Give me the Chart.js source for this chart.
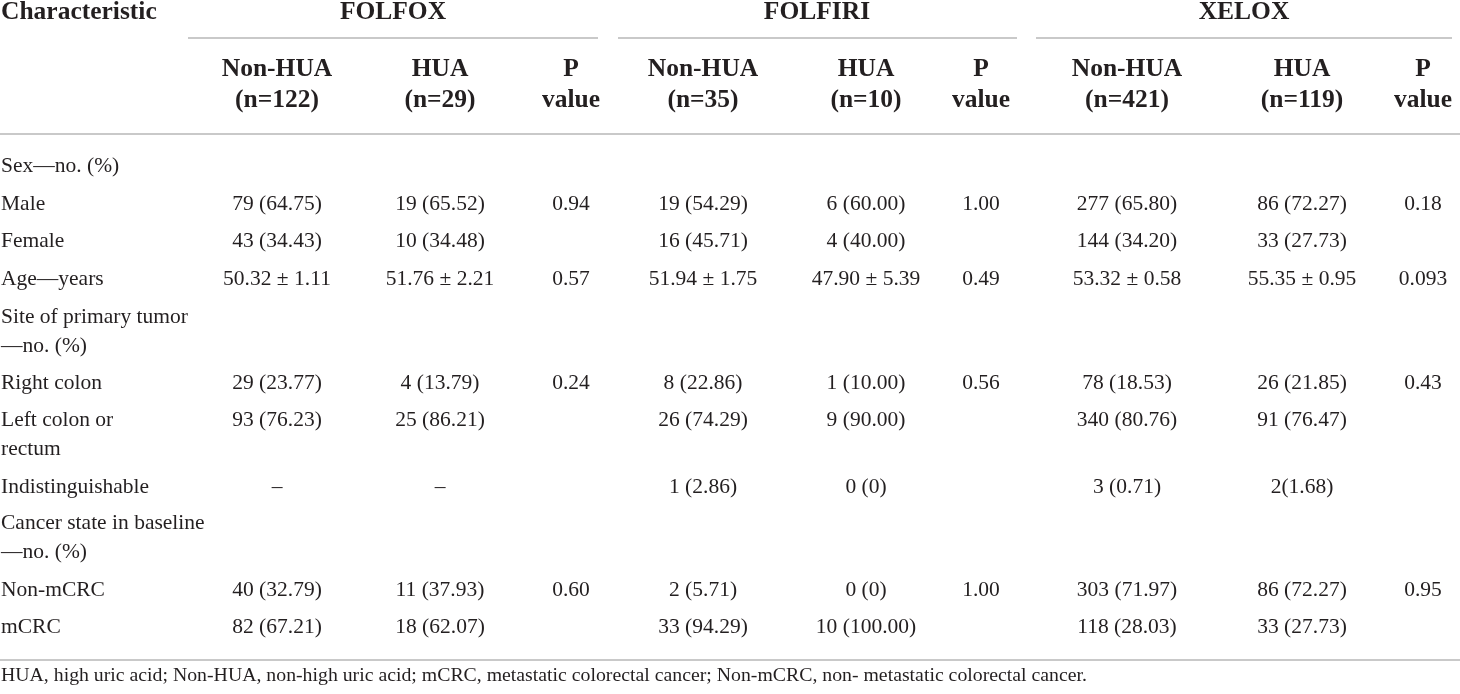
<!DOCTYPE html>
<html>
<head>
<meta charset="utf-8">
<script src="https://cdn.jsdelivr.net/npm/chart.js@4.4.1/dist/chart.umd.min.js"></script>
<style>
  html, body { margin: 0; padding: 0; background: #fff; }
  canvas { display: block; }
</style>
</head>
<body>
<canvas id="table" width="1460" height="694"></canvas>
<script>
// table content
const regimens = ['FOLFOX', 'FOLFIRI', 'XELOX'];
const armNames = ['Non-HUA', 'HUA'];
const folfoxN = [122, 29];
const folfiriN = [35, 10];
const xeloxN = [421, 119];

const characteristics = [
  'Sex\u2014no. (%)', 'Male', 'Female', 'Age\u2014years',
  'Site of primary tumor\n\u2014no. (%)', 'Right colon', 'Left colon or\nrectum',
  'Indistinguishable', 'Cancer state in baseline\n\u2014no. (%)', 'Non-mCRC', 'mCRC'
];
const folfoxNonHUA = ['', '79 (64.75)', '43 (34.43)', '50.32 \u00b1 1.11', '', '29 (23.77)', '93 (76.23)', '\u2013', '', '40 (32.79)', '82 (67.21)'];
const folfoxHUA = ['', '19 (65.52)', '10 (34.48)', '51.76 \u00b1 2.21', '', '4 (13.79)', '25 (86.21)', '\u2013', '', '11 (37.93)', '18 (62.07)'];
const folfoxP = ['', '0.94', '', '0.57', '', '0.24', '', '', '', '0.60', ''];
const folfiriNonHUA = ['', '19 (54.29)', '16 (45.71)', '51.94 \u00b1 1.75', '', '8 (22.86)', '26 (74.29)', '1 (2.86)', '', '2 (5.71)', '33 (94.29)'];
const folfiriHUA = ['', '6 (60.00)', '4 (40.00)', '47.90 \u00b1 5.39', '', '1 (10.00)', '9 (90.00)', '0 (0)', '', '0 (0)', '10 (100.00)'];
const folfiriP = ['', '1.00', '', '0.49', '', '0.56', '', '', '', '1.00', ''];
const xeloxNonHUA = ['', '277 (65.80)', '144 (34.20)', '53.32 \u00b1 0.58', '', '78 (18.53)', '340 (80.76)', '3 (0.71)', '', '303 (71.97)', '118 (28.03)'];
const xeloxHUA = ['', '86 (72.27)', '33 (27.73)', '55.35 \u00b1 0.95', '', '26 (21.85)', '91 (76.47)', '2(1.68)', '', '86 (72.27)', '33 (27.73)'];
const xeloxP = ['', '0.18', '', '0.093', '', '0.43', '', '', '', '0.95', ''];

const footnote = 'HUA, high uric acid; Non-HUA, non-high uric acid; mCRC, metastatic colorectal cancer; Non-mCRC, non- metastatic colorectal cancer.';

// layout (pixel units of the 1460 x 694 page)
const colX = [1, 277, 440, 571, 703, 866, 981, 1127, 1302, 1423];
const groupX = [393, 817, 1244];
const groupSpan = [[188, 598], [618, 1017], [1036, 1452]];
const rowY = [166, 204, 241, 279, 317, 383, 420, 487, 523, 590, 627];
const titleY = 12, subY = 69, headRuleY = 134, groupRuleY = 38, bottomRuleY = 660, noteY = 676;

const ink = '#231f20';
const ruleColor = '#c9c9c9';
const serif = '"Liberation Serif", "DejaVu Serif", serif';
const bodyFont = '21.5px ' + serif;
const headFont = 'bold 25.5px ' + serif;
const noteFont = '19.8px ' + serif;

const columns = [
  characteristics,
  folfoxNonHUA, folfoxHUA, folfoxP,
  folfiriNonHUA, folfiriHUA, folfiriP,
  xeloxNonHUA, xeloxHUA, xeloxP
];
const counts = [folfoxN, folfiriN, xeloxN];

function subHeads() {
  const out = [];
  counts.forEach(n => {
    armNames.forEach((name, a) => out.push(name + '\n(n=' + n[a] + ')'));
    out.push('P\nvalue');
  });
  return out;
}

function textSet(points, font, align, gap) {
  return {
    data: points,
    pointRadius: 0,
    showLine: false,
    cell: { font: font, align: align, gap: gap, color: ink }
  };
}

function rule(x0, x1, y) {
  return {
    data: [{ x: x0, y: y }, { x: x1, y: y }],
    showLine: true,
    borderColor: ruleColor,
    borderWidth: 2,
    pointRadius: 0
  };
}

const datasets = [];

// rules
groupSpan.forEach(s => datasets.push(rule(s[0], s[1], groupRuleY)));
datasets.push(rule(0, 1460, headRuleY));
datasets.push(rule(0, 1460, bottomRuleY));

// header
datasets.push(textSet([{ x: colX[0], y: titleY, text: 'Characteristic' }], headFont, 'left', 0));
datasets.push(textSet(regimens.map((r, i) => ({ x: groupX[i], y: titleY, text: r })), headFont, 'center', 0));
datasets.push(textSet(subHeads().map((t, i) => ({ x: colX[i + 1], y: subY, text: t })), headFont, 'center', 31));

// body
columns.forEach((col, c) => {
  datasets.push(textSet(
    col.map((t, r) => ({ x: colX[c], y: rowY[r], text: t })),
    bodyFont, c === 0 ? 'left' : 'center', 29
  ));
});

// footnote
datasets.push(textSet([{ x: colX[0], y: noteY, text: footnote }], noteFont, 'left', 0));

const cellText = {
  id: 'cellText',
  afterDatasetsDraw(chart) {
    const ctx = chart.ctx;
    const yScale = chart.scales.y;
    chart.data.datasets.forEach((ds, i) => {
      if (!ds.cell) return;
      const meta = chart.getDatasetMeta(i);
      ctx.save();
      ctx.font = ds.cell.font;
      ctx.fillStyle = ds.cell.color;
      ctx.textAlign = ds.cell.align;
      ctx.textBaseline = 'middle';
      meta.data.forEach((pt, j) => {
        const text = ds.data[j].text;
        if (!text) return;
        text.split('\n').forEach((line, k) => {
          const y = yScale.getPixelForValue(ds.data[j].y + k * ds.cell.gap);
          ctx.fillText(line, pt.x, y);
        });
      });
      ctx.restore();
    });
  }
};

new Chart(document.getElementById('table').getContext('2d'), {
  type: 'scatter',
  data: { datasets: datasets },
  options: {
    responsive: false,
    animation: false,
    events: [],
    layout: { padding: 0 },
    plugins: { legend: { display: false }, tooltip: { enabled: false } },
    scales: {
      x: { type: 'linear', min: 0, max: 1460, display: false },
      y: { type: 'linear', min: 0, max: 694, reverse: true, display: false }
    }
  },
  plugins: [cellText]
});
</script>
</body>
</html>
